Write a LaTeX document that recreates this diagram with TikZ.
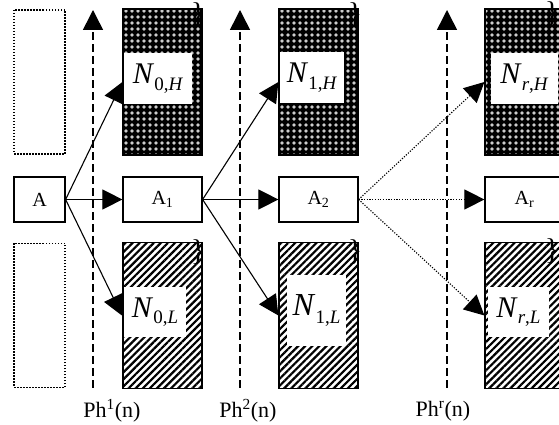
\documentclass[tikz,border=0pt]{standalone}
\usepackage{fontspec}
\setmainfont{Liberation Serif}
\usetikzlibrary{arrows.meta, patterns.meta}
\tikzset{
    blk/.style={draw, line width=1.2pt, inner sep=0pt, minimum width=79pt, minimum height=146pt},
    ghost/.style={draw, dash pattern=on 1.5pt off 1.5pt, line width=1.6pt, inner sep=0pt, minimum width=51pt, minimum height=144pt},
    hipass/.style={blk, preaction={fill=black}, pattern={Dots[distance=6pt, radius=1.9pt]}, pattern color=white!80!black},
    lopass/.style={blk, preaction={fill=white}, pattern={Lines[angle=45, distance=5pt, line width=2.2pt]}, pattern color=black},
    stage/.style={draw, line width=1.2pt, fill=white, inner sep=0pt, minimum width=79pt, minimum height=45pt, font=\fontsize{20}{20}\selectfont},
    lab/.style={fill=white, inner sep=0pt, font=\fontsize{30}{30}\selectfont},
    arr/.style={-{Triangle[length=20pt, width=20pt]}, line width=1.1pt},
    farr/.style={arr, dash pattern=on 1.2pt off 1.5pt},
    phase/.style={-{Triangle[length=20pt, width=20pt]}, dash pattern=on 8pt off 4pt, line width=1.5pt},
    ph/.style={font=\fontsize{22}{22}\selectfont},
    brace/.style={font=\fontsize{30}{30}\selectfont, inner sep=0pt},
}
\newcommand{\nsub}[2]{\textit{N}\raisebox{-0.22em}{\fontsize{19}{19}\selectfont #1,\textit{#2}}}

\begin{document}
\begin{tikzpicture}[x=1pt, y=1pt]
\useasboundingbox (0,0) rectangle (559,425);

% phase lines
\coordinate (p1b) at (93,37);   \coordinate (p1t) at (93,415);
\coordinate (p2b) at (240,37);  \coordinate (p2t) at (240,415);
\coordinate (prb) at (447,37);  \coordinate (prt) at (447,415);
\draw[phase] (p1b) -- (p1t);
\draw[phase] (p2b) -- (p2t);
\draw[phase] (prb) -- (prt);

\node[ph] (ph1) at (112,14) {Ph\textsuperscript{1}(n)};
\node[ph] (ph2) at (248,14) {Ph\textsuperscript{2}(n)};
\node[ph] (phr) at (443,14) {Ph\textsuperscript{r}(n)};

% empty slots
\node[ghost] (g0h) at (39.5,343) {};
\node[ghost] (g0l) at (39.5,109.5) {};

% high band
\node[hipass] (n0h) at (162.5,343) {};
\node[hipass] (n1h) at (318.5,343) {};
\node[hipass] (nrh) at (524.5,343) {};
\node[lab, minimum width=68pt, minimum height=51pt] (l0h) at (158,346.5) {\nsub{0}{H}};
\node[lab, minimum width=64pt, minimum height=51pt] (l1h) at (312,347.5) {\nsub{1}{H}};
\node[lab, minimum width=67pt, minimum height=51pt] (lrh) at (524.5,346.5) {\nsub{\textit{r}}{H}};

% low band
\node[lopass] (n0l) at (162.5,109.5) {};
\node[lopass] (n1l) at (318.5,109.5) {};
\node[lopass] (nrl) at (524.5,109.5) {};
\node[lab, minimum width=62pt, minimum height=50pt] (l0l) at (155,113) {\nsub{0}{L}};
\node[lab, minimum width=59pt, minimum height=71pt, font=\fontsize{32}{32}\selectfont] (l1l) at (316.5,114.5) {\nsub{1}{L}};
\node[lab, minimum width=61pt, minimum height=50pt] (lrl) at (518.5,113) {\nsub{\textit{r}}{L}};

% small marks
\foreach \bx/\by [count=\i] in {198/410, 355/410, 552/411, 198/173, 355/173, 552/174}
    \node[brace] (br\i) at (\bx,\by) {\}};

% stages
\node[stage, minimum width=51pt] (a0) at (39.5,225.5) {A};
\node[stage] (a1) at (162.5,225.5) {A\textsubscript{1}};
\node[stage] (a2) at (318.5,225.5) {A\textsubscript{2}};
\node[stage] (ar) at (524.5,225.5) {A\textsubscript{r}};

\draw[arr] (a0.east) -- (a1.west);
\draw[arr] (a0.east) -- (n0h.west);
\draw[arr] (a0.east) -- (n0l.west);
\draw[arr] (a1.east) -- (a2.west);
\draw[arr] (a1.east) -- (n1h.west);
\draw[arr] (a1.east) -- (n1l.west);
\draw[farr] (a2.east) -- (ar.west);
\draw[farr] (a2.east) -- (nrh.west);
\draw[farr] (a2.east) -- (nrl.west);

\end{tikzpicture}
\end{document}
